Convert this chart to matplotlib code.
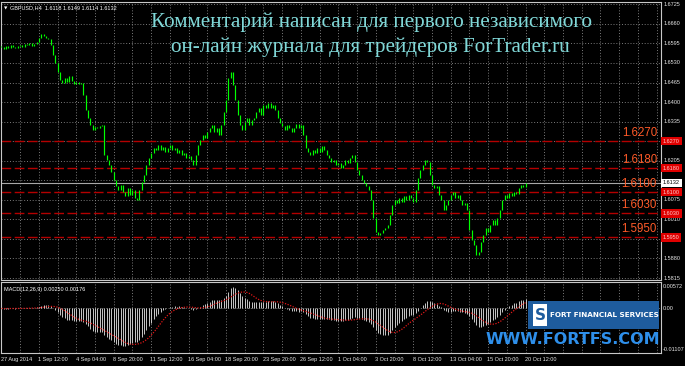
import matplotlib
matplotlib.use("Agg")
import matplotlib.pyplot as plt
import matplotlib.transforms as mtransforms
from matplotlib.patches import Rectangle
import numpy as np
import pandas as pd

# ---------------- data ----------------
closes = [
    1.6583, 1.6576, 1.6586, 1.6579, 1.6589, 1.6583, 1.6579, 1.6586, 1.6589, 1.6583,
    1.6593, 1.6589, 1.6596, 1.6586, 1.6593, 1.6599, 1.6613, 1.6626, 1.6619, 1.6613,
    1.6609, 1.6589, 1.6556, 1.6530, 1.6500, 1.6473, 1.6463, 1.6480, 1.6466, 1.6486,
    1.6470, 1.6460, 1.6466, 1.6460, 1.6463, 1.6423, 1.6373, 1.6347, 1.6323, 1.6307,
    1.6317, 1.6313, 1.6320, 1.6323, 1.6224, 1.6207, 1.6190, 1.6167, 1.6141, 1.6121,
    1.6107, 1.6124, 1.6101, 1.6087, 1.6114, 1.6091, 1.6107, 1.6081, 1.6074, 1.6107,
    1.6134, 1.6157, 1.6190, 1.6214, 1.6230, 1.6247, 1.6240, 1.6257, 1.6240, 1.6250,
    1.6234, 1.6247, 1.6257, 1.6240, 1.6247, 1.6230, 1.6240, 1.6224, 1.6230, 1.6214,
    1.6220, 1.6207, 1.6190, 1.6224, 1.6257, 1.6274, 1.6290, 1.6280, 1.6300, 1.6313,
    1.6323, 1.6300, 1.6313, 1.6290, 1.6323, 1.6367, 1.6407, 1.6480, 1.6500, 1.6456,
    1.6407, 1.6357, 1.6323, 1.6307, 1.6333, 1.6347, 1.6323, 1.6340, 1.6347, 1.6367,
    1.6380, 1.6357, 1.6390, 1.6380, 1.6397, 1.6380, 1.6390, 1.6373, 1.6347, 1.6330,
    1.6320, 1.6307, 1.6323, 1.6313, 1.6300, 1.6313, 1.6327, 1.6313, 1.6323, 1.6290,
    1.6247, 1.6234, 1.6224, 1.6240, 1.6230, 1.6247, 1.6234, 1.6254, 1.6240, 1.6224,
    1.6214, 1.6200, 1.6207, 1.6190, 1.6197, 1.6180, 1.6190, 1.6207, 1.6197, 1.6214,
    1.6224, 1.6200, 1.6174, 1.6157, 1.6141, 1.6131, 1.6121, 1.6107, 1.6074, 1.6014,
    1.5968, 1.5958, 1.5964, 1.5974, 1.5981, 1.5991, 1.6024, 1.6057, 1.6074, 1.6064,
    1.6081, 1.6067, 1.6087, 1.6074, 1.6091, 1.6081, 1.6067, 1.6107, 1.6147, 1.6174,
    1.6190, 1.6207, 1.6200, 1.6157, 1.6124, 1.6114, 1.6121, 1.6091, 1.6074, 1.6041,
    1.6057, 1.6074, 1.6091, 1.6101, 1.6081, 1.6091, 1.6074, 1.6057, 1.6064, 1.6041,
    1.5974, 1.5941, 1.5924, 1.5891, 1.5901, 1.5934, 1.5958, 1.5981, 1.5968, 1.5991,
    1.6008, 1.5991, 1.6014, 1.6041, 1.6074, 1.6091, 1.6081, 1.6097, 1.6087, 1.6101,
    1.6094, 1.6114, 1.6124, 1.6117, 1.6132,
]

level_prices = [1.6270, 1.6180, 1.6100, 1.6030, 1.5950]
level_labels = ["1.6270", "1.6180", "1.6100", "1.6030", "1.5950"]

price_ticks = [1.6725, 1.6660, 1.6595, 1.6530, 1.6465, 1.6400, 1.6335, 1.6270,
               1.6205, 1.6140, 1.6075, 1.6010, 1.5945, 1.5880, 1.5815]
price_tick_labels = ["1.6725", "1.6660", "1.6595", "1.6530", "1.6465", "1.6400", "1.6335", "",
                     "1.6205", "", "1.6075", "1.6010", "", "1.5880", "1.5815"]
last_price = 1.6132

date_labels = ["27 Aug 2014", "1 Sep 12:00", "4 Sep 04:00", "8 Sep 20:00", "11 Sep 12:00",
               "16 Sep 04:00", "18 Sep 20:00", "23 Sep 20:00", "26 Sep 12:00", "1 Oct 04:00",
               "3 Oct 20:00", "8 Oct 12:00", "13 Oct 04:00", "15 Oct 20:00", "20 Oct 12:00"]
bars_per_label = 16
bars_per_grid = 8

macd_ticks = [0.00572, 0.0, -0.01107]
macd_tick_labels = ["0.00572", "0.00", "-0.01107"]

header = "GBPUSD,H4  1.6118 1.6149 1.6114 1.6132"
macd_header = "MACD(12,26,9) 0.00250 0.00176"
title1 = "Комментарий написан для первого независимого"
title2 = "он-лайн журнала для трейдеров ForTrader.ru"

# ---------------- derived ----------------
c = np.array(closes)
n = len(c)
idx = np.arange(n)
opens = np.concatenate([[c[0]], c[:-1]])
s = pd.Series(c)
macd = (s.ewm(span=12, adjust=False).mean() - s.ewm(span=26, adjust=False).mean()).values
signal = pd.Series(macd).rolling(9, min_periods=1).mean().values

# ---------------- figure ----------------
W, H = 685, 366
fig = plt.figure(figsize=(W / 100, H / 100), dpi=100, facecolor="black")
SMALL = dict(fontsize=4.0, family="Liberation Sans")

def fb(x0, y0, x1, y1):
    return [x0 / W, 1 - y1 / H, (x1 - x0) / W, (y1 - y0) / H]

PX = 2.34  # pixels per bar
XL = (1 / PX - 0.6, 661 / PX - 0.6)

ax = fig.add_axes(fb(1, 2, 661, 280))
ax2 = fig.add_axes(fb(1, 282, 661, 353))
for a in (ax, ax2):
    a.set_facecolor("black")
    a.set_xlim(*XL)
    a.set_xticks([])
    a.set_yticks([])
    for sp in a.spines.values():
        sp.set_color("#C8C8C8")
        sp.set_linewidth(0.8)

def p_of_y(y):
    return 1.67393 - y / 3008.0

ax.set_ylim(p_of_y(280), p_of_y(2))
ax2.set_ylim(-0.01187, 0.00705)

grid_kw = dict(color="#8A8A8A", lw=0.6, linestyle=(0, (1.2, 2.2)), zorder=1)
for g in np.arange(0, XL[1], bars_per_grid):
    ax.axvline(g, **grid_kw)
    ax2.axvline(g, **grid_kw)
for p in price_ticks:
    ax.axhline(p, **grid_kw)

# level lines
for p, lab in zip(level_prices, level_labels):
    ln = ax.axhline(p, color="#B40000", lw=1.0, zorder=2)
    ln.set_dashes([7, 2.5])
    tr = mtransforms.offset_copy(ax.get_yaxis_transform(), fig=fig, x=0, y=1.8, units="points")
    ax.text((657 - 1) / 660, p, lab, transform=tr, ha="right", va="bottom",
            fontsize=8.3, color="#FF5A28", family="Liberation Sans", zorder=5)

# bid line
ax.axhline(last_price, color="#A8A8A8", lw=0.8, zorder=2)

# candles (body from previous close to close)
lo = np.minimum(opens, c)
hi = np.maximum(opens, c)
hi = np.where(hi - lo < 0.00025, lo + 0.00025, hi)
ax.vlines(idx, lo, hi, colors="#00FF00", lw=0.85, zorder=4)

# right price labels
ytr = ax.get_yaxis_transform()
for p, lab in zip(price_ticks, price_tick_labels):
    if lab:
        ax.text(1.004, p, lab, transform=ytr, ha="left", va="center",
                color="#E6E6E6", clip_on=False, **SMALL)
for p, lab in zip(level_prices, level_labels):
    ax.text(1.003, p, lab, transform=ytr, ha="left", va="center",
            color="#FFC8C8", clip_on=False,
            bbox=dict(boxstyle="square,pad=0.3", fc="#E00000", ec="none"), **SMALL)
ax.text(1.003, last_price, f"{last_price:.4f}", transform=ytr, ha="left", va="center",
        color="black", clip_on=False,
        bbox=dict(boxstyle="square,pad=0.3", fc="white", ec="none"), **SMALL)

# header
ax.text(0.004, 0.985, "\u25BC", transform=ax.transAxes, ha="left", va="top",
        fontsize=3.2, color="white")
ax.text(0.013, 0.988, header, transform=ax.transAxes, ha="left", va="top",
        color="white", **SMALL)

# MACD
ax2.axhline(0, **grid_kw)
ax2.vlines(idx, 0, macd, colors="#C8C8C8", lw=0.7, zorder=3)
ax2.plot(idx, signal, color="#E01818", lw=0.9, linestyle=(0, (1, 1.2)), zorder=4)
ytr2 = ax2.get_yaxis_transform()
for p, lab in zip(macd_ticks, macd_tick_labels):
    ax2.text(1.003, p, lab, transform=ytr2, ha="left", va="center",
             color="#E6E6E6", clip_on=False, **SMALL)
ax2.text(0.004, 0.93, macd_header, transform=ax2.transAxes, ha="left", va="top",
         color="white", **SMALL)

# date labels
xtr = ax2.get_xaxis_transform()
for k, lab in enumerate(date_labels):
    ax2.text(k * bars_per_label - 0.3, -0.085, lab, transform=xtr, ha="left", va="center",
             color="#E6E6E6", clip_on=False, **SMALL)

# title
fig.text(371 / W, 1 - 22 / H, title1, ha="center", va="center",
         family="Liberation Serif", fontsize=15.2, color="#80D8D8")
fig.text(370 / W, 1 - 47 / H, title2, ha="center", va="center",
         family="Liberation Serif", fontsize=15.2, color="#80D8D8")

# logo
fig.patches.append(Rectangle((528 / W, 1 - 329 / H), 131 / W, 28 / H,
                             transform=fig.transFigure, fc="#1E5C9E", ec="none", zorder=10))
fig.patches.append(Rectangle((533 / W, 1 - 326 / H), 14 / W, 22 / H,
                             transform=fig.transFigure, fc="white", ec="none", zorder=11))
fig.text(540 / W, 1 - 315 / H, "S", ha="center", va="center", fontsize=11,
         fontweight="bold", color="#1E5C9E", zorder=12)
fig.text(604 / W, 1 - 315 / H, "FORT FINANCIAL SERVICES", ha="center", va="center",
         fontsize=5.2, fontweight="bold", color="white", zorder=12)
fig.text(573 / W, 1 - 339 / H, "WWW.FORTFS.COM", ha="center", va="center",
         fontsize=11.5, fontweight="bold", color="#2E8FEA", zorder=12)

fig.savefig("out.png", dpi=100, facecolor="black")
